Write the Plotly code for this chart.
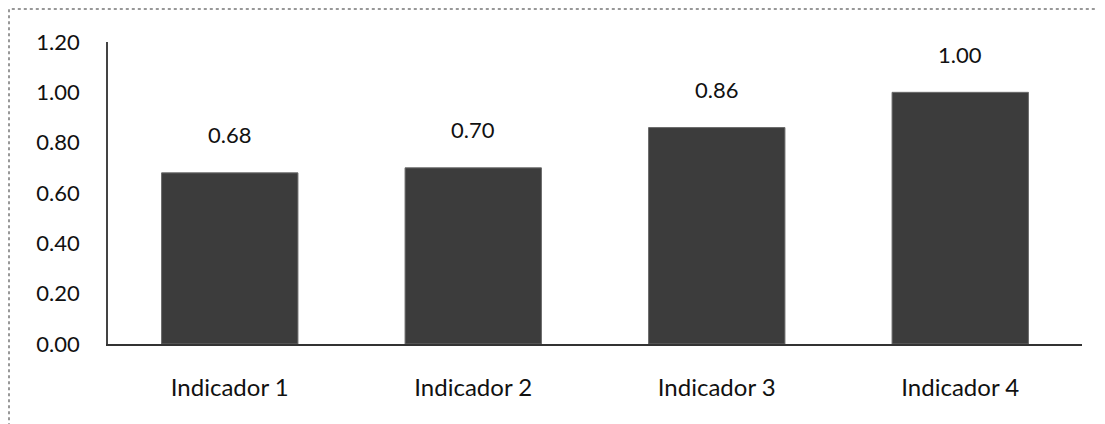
import plotly.graph_objects as go

categories = ["Indicador 1", "Indicador 2", "Indicador 3", "Indicador 4"]
values = [0.68, 0.70, 0.86, 1.00]
tick_vals = [0.0, 0.2, 0.4, 0.6, 0.8, 1.0, 1.2]
tick_text = ["0.00", "0.20", "0.40", "0.60", "0.80", "1.00", "1.20"]

W, H = 1097, 416
ml, mr, mt, mb = 100, 23, 34, 80
pw = W - ml - mr
ph = H - mt - mb

fig = go.Figure()
fig.add_trace(go.Bar(
    x=categories, y=values,
    marker=dict(color="#3c3c3c", line=dict(color="#6a6a6a", width=1)),
    width=0.56,
    hoverinfo="skip",
))

annotations = []
for c, v in zip(categories, values):
    annotations.append(dict(
        x=c, y=v, xref="x", yref="y", text=f"{v:.2f}", showarrow=False,
        yshift=38, font=dict(size=22, color="#111111", family="Lato, Open Sans, sans-serif"),
    ))

fig.update_layout(
    width=W, height=H,
    margin=dict(l=ml, r=mr, t=mt, b=mb),
    plot_bgcolor="white", paper_bgcolor="white",
    showlegend=False,
    font=dict(family="Lato, Open Sans, sans-serif", size=22, color="#111111"),
    annotations=annotations,
    xaxis=dict(
        showline=True, linecolor="#333333", linewidth=1.5,
        ticks="", showgrid=False, tickfont=dict(size=24), ticklabelstandoff=21,
    ),
    yaxis=dict(
        range=[0, 1.2], tickvals=tick_vals, ticktext=tick_text,
        showline=True, linecolor="#444444", linewidth=1.5,
        ticks="", showgrid=False, zeroline=False, tickfont=dict(size=22),
        ticklabelstandoff=22,
    ),
    shapes=[dict(
        type="rect", xref="paper", yref="paper",
        x0=(1 - ml) / pw, x1=(W + 20 - ml) / pw,
        y0=-0.4, y1=1 + (mt - 1) / ph,
        line=dict(color="#777777", width=1.5, dash="dot"),
        layer="below",
    )],
)

fig.write_html("out.html")
